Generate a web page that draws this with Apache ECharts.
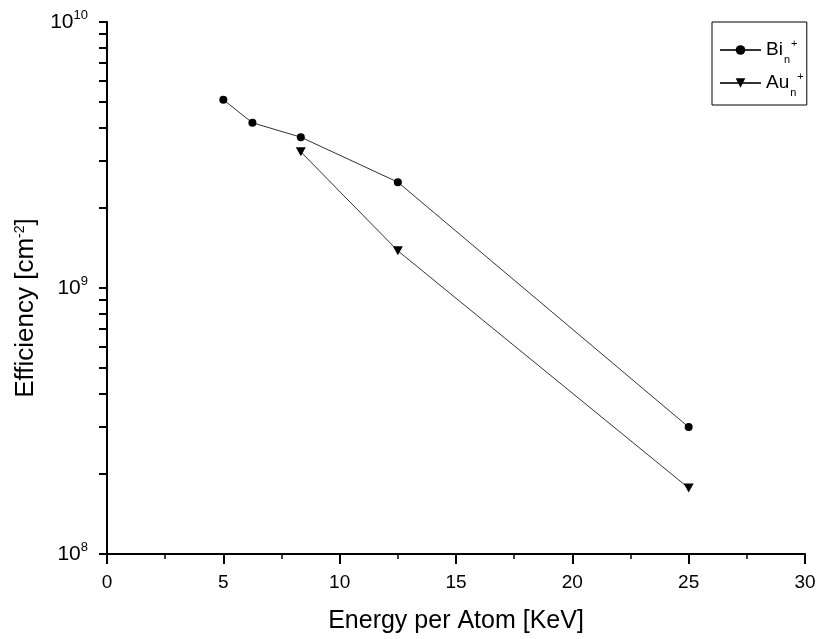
<!DOCTYPE html>
<html>
<head>
<meta charset="utf-8">
<script src="https://cdn.jsdelivr.net/npm/echarts@6/dist/echarts.min.js"></script>
<style>html,body{margin:0;padding:0;background:#fff;}#c{width:819px;height:639px;}</style>
</head>
<body>
<div id="c"></div>
<script>
// Data
var energyBi = [5, 6.25, 8.33, 12.5, 25];
var effBi = [5.1e9, 4.18e9, 3.69e9, 2.5e9, 3.0e8];
var energyAu = [8.33, 12.5, 25];
var effAu = [3.25e9, 1.38e9, 1.77e8];
var xTicks = [0, 5, 10, 15, 20, 25, 30];
var yMajorTicks = [1e8, 1e9, 1e10];
var minorMantissas = [2, 3, 4, 5, 6, 7, 8, 9];

var FONT = "'Liberation Sans', Arial, sans-serif";
function pairs(xs, ys) { return xs.map(function (x, i) { return [x, ys[i]]; }); }
var minorVals = [];
yMajorTicks.slice(0, -1).forEach(function (d) {
  minorMantissas.forEach(function (m) { minorVals.push(d * m); });
});
var allTickVals = yMajorTicks.concat(minorVals).sort(function (a, b) { return a - b; });

var chart = echarts.init(document.getElementById('c'), null, { renderer: 'canvas' });
chart.setOption({
  backgroundColor: '#fff',
  animation: false,
  textStyle: { fontFamily: FONT },
  grid: { left: 107, right: 14, top: 22, bottom: 82, containLabel: false },
  legend: {
    orient: 'vertical',
    left: 712, top: 22,
    padding: [16, 3, 7, 7],
    itemGap: 6,
    itemWidth: 41,
    itemHeight: 12,
    borderColor: '#000',
    borderWidth: 1,
    borderRadius: 0,
    data: ['Bi', 'Au'],
    formatter: function (n) { return '{m|' + n + '}{sub|n}{sup|+}'; },
    textStyle: {
      fontFamily: FONT,
      color: '#000',
      rich: {
        m: { fontSize: 19, lineHeight: 24, fontFamily: FONT, color: '#000' },
        sub: { fontSize: 11, lineHeight: 11, verticalAlign: 'bottom', fontFamily: FONT, color: '#000', padding: [0, 0, -3, 1] },
        sup: { fontSize: 11, lineHeight: 11, verticalAlign: 'top', fontFamily: FONT, color: '#000', padding: [0, 0, 0, 1] }
      }
    }
  },
  xAxis: {
    type: 'value',
    min: 0, max: 30, interval: 5,
    name: 'Energy per Atom [KeV]',
    nameLocation: 'middle',
    nameGap: 55,
    nameTextStyle: { fontSize: 25, color: '#000', fontFamily: FONT },
    axisLine: { show: true, onZero: false, lineStyle: { color: '#000', width: 2 } },
    axisTick: { show: true, inside: false, length: 10, lineStyle: { color: '#000', width: 2 } },
    minorTick: { show: true, splitNumber: 2, length: 5, lineStyle: { color: '#000', width: 1.5 } },
    axisLabel: { fontSize: 19, color: '#000', margin: 19, fontFamily: FONT },
    splitLine: { show: false }
  },
  yAxis: {
    type: 'log',
    logBase: 10,
    min: yMajorTicks[0], max: yMajorTicks[yMajorTicks.length - 1],
    position: 'left',
    name: 'Efficiency [cm{sup|-2}]',
    nameLocation: 'middle',
    nameGap: 68,
    nameRotate: 90,
    nameTextStyle: {
      fontSize: 26, color: '#000', fontFamily: FONT,
      padding: [0, 40, 0, 0],
      rich: { sup: { fontSize: 14, verticalAlign: 'top', lineHeight: 14, color: '#000', fontFamily: FONT } }
    },
    axisLine: { show: true, onZero: false, lineStyle: { color: '#000', width: 2 } },
    axisTick: {
      show: true, inside: false, length: 8,
      customValues: allTickVals,
      lineStyle: { color: '#000', width: 2 }
    },
    axisLabel: {
      margin: 19,
      color: '#000',
      customValues: yMajorTicks,
      formatter: function (v) { return '{b|10}{s|' + Math.round(Math.log10(v)) + '}'; },
      rich: {
        b: { fontSize: 21, lineHeight: 26, color: '#000', fontFamily: FONT },
        s: { fontSize: 13, lineHeight: 13, verticalAlign: 'top', color: '#000', fontFamily: FONT }
      }
    },
    splitLine: { show: false }
  },
  series: [{
    name: 'Bi',
    type: 'line',
    data: pairs(energyBi, effBi),
    symbol: 'circle',
    symbolSize: 8,
    itemStyle: { color: '#000' },
    lineStyle: { color: '#333', width: 1 },
    z: 3
  }, {
    name: 'Au',
    type: 'line',
    data: pairs(energyAu, effAu),
    symbol: 'path://M0,0 L10,0 L5,9 Z',
    symbolSize: [10, 9],
    itemStyle: { color: '#000' },
    lineStyle: { color: '#333', width: 1 },
    z: 3
  }]
});
</script>
</body>
</html>
